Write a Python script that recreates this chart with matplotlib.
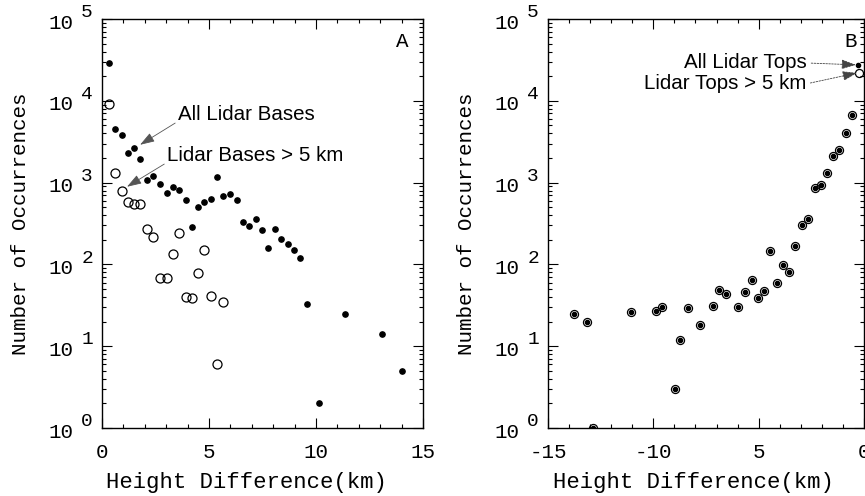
import numpy as np
import matplotlib
matplotlib.use('Agg')
import matplotlib.pyplot as plt
from matplotlib.ticker import MultipleLocator, LogLocator, NullFormatter
from matplotlib.transforms import blended_transform_factory, offset_copy

# panel A : lidar bases
bases_x = [0.33, 0.61, 0.92, 1.2, 1.5, 1.79, 2.12, 2.4, 2.71, 3.02, 3.3, 3.6,
           3.91, 4.19, 4.5, 4.78, 5.08, 5.39, 5.67, 5.98, 6.29, 6.57, 6.88,
           7.18, 7.48, 7.77, 8.08, 8.36, 8.68, 8.97, 9.27, 9.56, 10.14, 11.36,
           13.1, 14.0]
bases_all = [29000, 4570, 3850, 2300, 2650, 1960, 1090, 1200, 950, 745, 890,
             815, 615, 285, 505, 575, 630, 1170, 680, 730, 605, 330, 295, 355,
             260, 157, 272, 205, 178, 148, 120, 32.5, 2, 24.5, 14, 5]
bases5_x = [0.33, 0.61, 0.92, 1.2, 1.5, 1.79, 2.12, 2.4, 2.71, 3.02, 3.3, 3.6,
            3.91, 4.19, 4.5, 4.78, 5.09, 5.39, 5.67]
bases5_y = [9100, 1310, 800, 585, 550, 545, 270, 215, 69, 69, 135, 243, 40,
            38.5, 79, 152, 41, 6, 35]

# panel B : lidar tops
tops_x = [-13.77, -13.17, -12.88, -11.07, -9.89, -9.59, -8.96, -8.71, -8.36,
          -7.77, -7.18, -6.86, -6.54, -5.96, -5.64, -5.33, -5.05, -4.73, -4.45,
          -4.15, -3.86, -3.55, -3.26, -2.96, -2.65, -2.33, -2.05, -1.76, -1.46,
          -1.18, -0.86, -0.55, -0.27]
tops_all = [25, 20, 1, 26, 27, 30, 3, 12, 29, 18, 31, 48, 44, 30, 46, 64, 39,
            47, 145, 59, 97, 81, 167, 299, 355, 860, 945, 1310, 2100, 2520,
            4050, 6750, 27500]
tops5_x = [-13.77, -13.17, -12.88, -11.07, -9.89, -9.59, -8.96, -8.71, -8.36,
           -7.77, -7.18, -6.86, -6.54, -5.96, -5.64, -5.33, -5.05, -4.73, -4.45,
           -4.15, -3.86, -3.55, -3.26, -2.96, -2.65, -2.33, -2.05, -1.76, -1.46,
           -1.18, -0.86, -0.55, -0.24]
tops5_y = [25, 20, 1, 26, 27, 30, 3, 12, 29, 18, 31, 48, 44, 30, 46, 64, 39,
           47, 145, 59, 97, 81, 167, 299, 355, 860, 945, 1310, 2100, 2520,
           4050, 6750, 22100]

mono = 'Liberation Mono'
sans = 'Liberation Sans'

fig = plt.figure(figsize=(8.65, 4.96), dpi=100)
axA = fig.add_axes([0.1179, 0.1371, 0.3711, 0.8246])
axB = fig.add_axes([0.6335, 0.1371, 0.3653, 0.8246])


def style_axis(ax):
    ax.set_yscale('log')
    ax.set_ylim(1, 1e5)
    ax.yaxis.set_major_locator(LogLocator(base=10))
    ax.yaxis.set_minor_locator(LogLocator(base=10, subs=np.arange(2, 10)))
    ax.yaxis.set_minor_formatter(NullFormatter())
    ax.xaxis.set_major_locator(MultipleLocator(5))
    ax.xaxis.set_minor_locator(MultipleLocator(1))
    ax.tick_params(which='both', direction='in', top=True, right=True,
                   labelleft=False, width=0.8)
    ax.tick_params(which='major', length=7, pad=11)
    ax.tick_params(which='minor', length=3)
    for s in ax.spines.values():
        s.set_linewidth(1.0)
    # y labels as "10" with a full size exponent
    tr = blended_transform_factory(ax.transAxes, ax.transData)
    for k in range(6):
        t1 = offset_copy(tr, fig=fig, x=-20.5, y=-3.0, units='points')
        t2 = offset_copy(tr, fig=fig, x=-15.0, y=4.5, units='points')
        ax.text(0, 10.0 ** k, '10', transform=t1, ha='right', va='center',
                family=mono, fontsize=15)
        ax.text(0, 10.0 ** k, str(k), transform=t2, ha='left', va='center',
                family=mono, fontsize=14)
    ax.set_ylabel('Number of Occurrences', family=mono, fontsize=15)
    ax.set_xlabel('Height Difference(km)', family=mono, fontsize=16)
    for lab in ax.get_xticklabels():
        lab.set_family(mono)
        lab.set_fontsize(15)


# ---- A ----
axA.plot(bases5_x, bases5_y, 'o', mfc='none', mec='black', mew=0.9, ms=6.5)
axA.plot(bases_x, bases_all, 'o', color='black', ms=3.8)
axA.set_xlim(0, 15)
axA.set_xticks([0, 5, 10, 15])
style_axis(axA)
axA.yaxis.set_label_coords(-0.224, 0.5)
axA.xaxis.set_label_coords(0.45, -0.108)
axA.text(0.935, 0.944, 'A', transform=axA.transAxes, family=mono,
         fontsize=15, ha='center', va='center')

arrA = dict(arrowstyle='-|>,head_length=0.6,head_width=0.2', color='#555555',
            lw=0.6, shrinkA=0, shrinkB=0, relpos=(0, 0.15))
axA.annotate('All Lidar Bases', xy=(1.78, 2900), xytext=(3.55, 6760),
             family=sans, fontsize=14.8, ha='left', va='center',
             arrowprops=arrA)
axA.annotate('Lidar Bases > 5 km', xy=(1.17, 890), xytext=(3.04, 2130),
             family=sans, fontsize=14.8, ha='left', va='center',
             arrowprops=arrA)

# ---- B ----
axB.plot(tops5_x, tops5_y, 'o', mfc='none', mec='black', mew=0.9, ms=5.8)
axB.plot(tops_x, tops_all, 'o', color='black', ms=3.0)
axB.set_xlim(-15, 0)
axB.set_xticks([-15, -10, -5, 0], labels=['-15', '-10', '5', '0'])
style_axis(axB)
axB.yaxis.set_label_coords(-0.228, 0.5)
axB.xaxis.set_label_coords(0.46, -0.108)
axB.text(0.959, 0.944, 'B', transform=axB.transAxes, family=mono,
         fontsize=15, ha='center', va='center')

arrB = dict(arrowstyle='-|>,head_length=0.6,head_width=0.2', color='#444444',
            lw=0.6, ls=(0, (2, 1.5)), shrinkA=1, shrinkB=0, relpos=(1, 0.5))
axB.annotate('All Lidar Tops', xy=(-0.38, 27500), xytext=(-2.70, 29000),
             family=sans, fontsize=14.8, ha='right', va='center',
             arrowprops=arrB, annotation_clip=False)
axB.annotate('Lidar Tops > 5 km', xy=(-0.33, 21900), xytext=(-2.74, 16100),
             family=sans, fontsize=14.8, ha='right', va='center',
             arrowprops=arrB, annotation_clip=False)

fig.savefig('out.png', dpi=100)
